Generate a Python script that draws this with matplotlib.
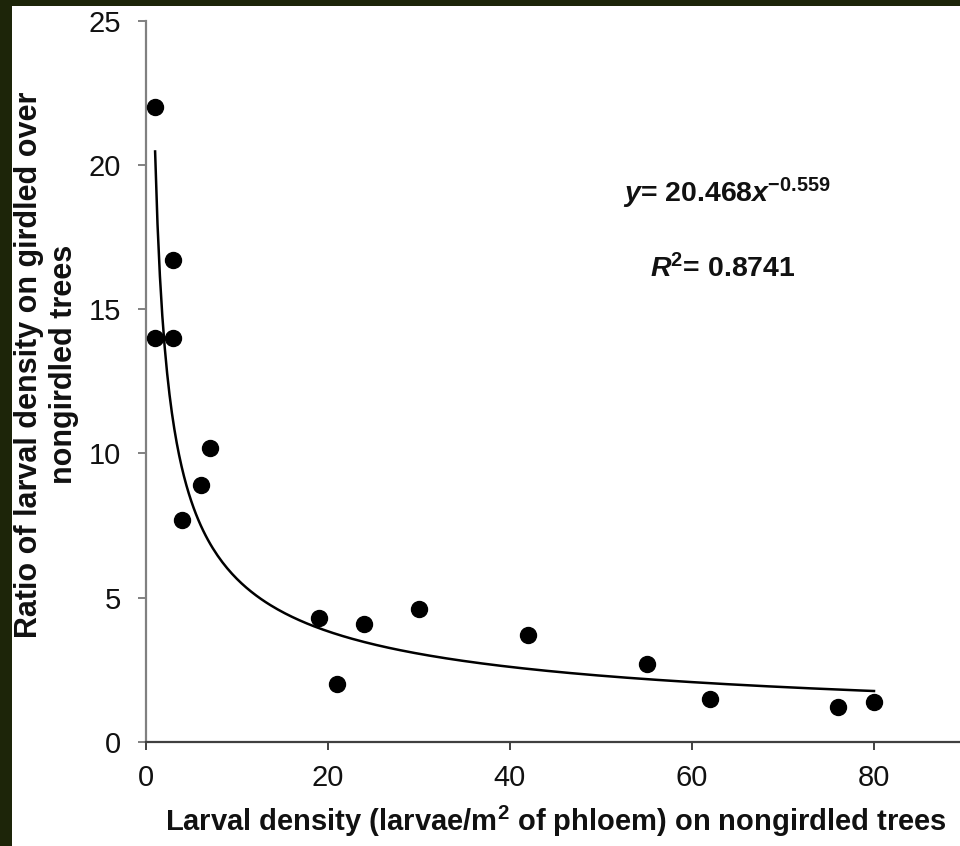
import numpy as np
import matplotlib.pyplot as plt
from matplotlib.patches import Rectangle

plt.rcParams['font.family'] = ['Liberation Sans', 'DejaVu Sans']
plt.rcParams['mathtext.fontset'] = 'custom'
plt.rcParams['mathtext.rm'] = 'Liberation Sans'
plt.rcParams['mathtext.bf'] = 'Liberation Sans:bold'
plt.rcParams['mathtext.it'] = 'Liberation Sans:italic'
plt.rcParams['mathtext.bfit'] = 'Liberation Sans:bold:italic'

# larval density on nongirdled trees vs ratio girdled / nongirdled
density = [1, 1, 3, 3, 4, 6, 7, 19, 21, 24, 30, 42, 55, 62, 76, 80]
ratio = [22.0, 14.0, 16.7, 14.0, 7.7, 8.9, 10.2, 4.3, 2.0, 4.1, 4.6, 3.7, 2.7, 1.5, 1.2, 1.4]

# power fit from the chart
coef_a = 20.468
coef_b = -0.559
r_squared = 0.8741

x_ticks = [0, 20, 40, 60, 80]
y_ticks = [0, 5, 10, 15, 20, 25]

W, H = 960, 846
fig = plt.figure(figsize=(W / 100, H / 100), dpi=100)
fig.patch.set_facecolor('#1d2509')
fig.patches.append(Rectangle((12 / W, 0), 1, 1 - 6 / H, transform=fig.transFigure,
                             facecolor='white', edgecolor='none', zorder=-5))

x_left, x_right = 146, 146 + 90 * 9.1
y_bot, y_top = 742, 20.7
ax = fig.add_axes([x_left / W, (H - y_bot) / H, (x_right - x_left) / W, (y_bot - y_top) / H])
ax.patch.set_alpha(0)

xs = np.linspace(1, 80, 300)
ax.plot(xs, coef_a * xs ** coef_b, color='black', lw=1.8, zorder=2)
ax.plot(density, ratio, 'o', color='black', ms=11.5, zorder=3)

ax.set_xlim(0, 90)
ax.set_ylim(0, 25)
ax.set_xticks(x_ticks)
ax.set_yticks(y_ticks)
ax.tick_params(axis='both', labelsize=21, length=6, width=1.4)
ax.tick_params(axis='x', colors='#404040', labelcolor='#111111', pad=10)
ax.tick_params(axis='y', colors='#808080', labelcolor='#111111', pad=12)

for s in ['top', 'right']:
    ax.spines[s].set_visible(False)
ax.spines['left'].set_color('#808080')
ax.spines['left'].set_linewidth(1.6)
ax.spines['bottom'].set_color('#404040')
ax.spines['bottom'].set_linewidth(1.6)

ax.set_xlabel('Larval density (larvae/m$^\\mathbf{2}$ of phloem) on nongirdled trees',
              fontsize=21, fontweight='bold', labelpad=8, color='#111111')
ax.set_ylabel('Ratio of larval density on girdled over\nnongirdled trees',
              fontsize=22, fontweight='bold', color='#111111', linespacing=1.2)
ax.yaxis.set_label_coords(-0.082, 0.523)

ax.text(63.8, 19.0, '$\\mathbfit{y}$= %.3f$\\mathbfit{x}^{\\mathbf{%.3f}}$' % (coef_a, coef_b),
        fontsize=20.5, fontweight='bold', ha='center', va='center', color='#111111')
ax.text(63.4, 16.4, '$\\mathbfit{R}^{\\mathbf{2}}$= %.4f' % r_squared,
        fontsize=20.5, fontweight='bold', ha='center', va='center', color='#111111')

fig.savefig('out.png', dpi=100, facecolor=fig.get_facecolor())
